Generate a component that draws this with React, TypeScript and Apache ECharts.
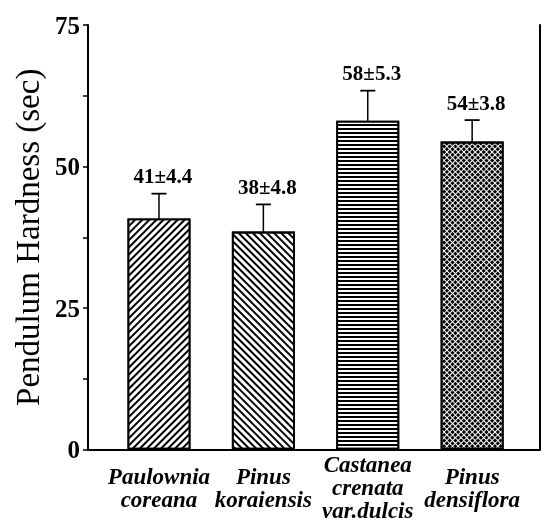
import React, { useEffect, useRef } from "react";
import * as echarts from "echarts";

const categories = [
  "Paulownia\ncoreana",
  "Pinus\nkoraiensis",
  "Castanea\ncrenata\nvar.dulcis",
  "Pinus\ndensiflora",
];
const positions = [1, 2, 3, 4];
const means = [40.8, 38.5, 58.1, 54.4];
const sds = [4.4, 4.8, 5.3, 3.8];
const valueLabels = ["41±4.4", "38±4.8", "58±5.3", "54±3.8"];
const yTicks = [0, 25, 50, 75];

const decals = [
  { symbol: "rect", symbolSize: 1, dashArrayX: [1, 0], dashArrayY: [1.4, 2.4], rotation: -Math.PI / 4, color: "#000" },
  { symbol: "rect", symbolSize: 1, dashArrayX: [1, 0], dashArrayY: [1.4, 2.4], rotation: Math.PI / 4, color: "#000" },
  { symbol: "rect", symbolSize: 1, dashArrayX: [1, 0], dashArrayY: [1.3, 1.7], rotation: 0, color: "#000" },
  { symbol: "rect", symbolSize: 1, dashArrayX: [2.2, 0.9], dashArrayY: [2.2, 0.9], rotation: Math.PI / 4, color: "#000" },
];

export default function App() {
  const ref = useRef<HTMLDivElement>(null);
  useEffect(() => {
    document.body.style.margin = "0";
    document.body.style.overflow = "hidden";
    const chart = echarts.init(ref.current!, null, { renderer: "svg" });
    const serif = "Liberation Serif";
    chart.setOption({
      animation: false,
      aria: { enabled: true, decal: { show: true } },
      grid: { left: 88, right: 7, top: 25, bottom: 72 },
      xAxis: {
        type: "value",
        min: 0.32,
        max: 4.65,
        splitLine: { show: false },
        axisLine: { show: true, onZero: false, lineStyle: { color: "#000", width: 2 } },
        axisTick: { show: false },
        axisLabel: {
          customValues: positions,
          showMinLabel: true,
          showMaxLabel: true,
          hideOverlap: false,
          formatter: (v: number) => categories[Math.round(v) - 1] ?? "",
          fontFamily: serif,
          fontStyle: "italic",
          fontWeight: "bold",
          fontSize: 23,
          lineHeight: 23,
          color: "#000",
          verticalAlign: "middle",
          margin: 38,
        },
      },
      yAxis: [
        {
          type: "value",
          min: 0,
          max: 75,
          interval: 25,
          name: "Pendulum Hardness (sec)",
          nameLocation: "middle",
          nameGap: 38,
          nameTextStyle: { fontFamily: serif, fontSize: 33, color: "#000" },
          splitLine: { show: false },
          axisLine: { show: true, lineStyle: { color: "#000", width: 2 } },
          axisTick: { show: true, length: 5, lineStyle: { color: "#000", width: 1.5 } },
          minorTick: { show: true, splitNumber: 2, length: 5, lineStyle: { color: "#000", width: 1.5 } },
          axisLabel: {
            customValues: yTicks,
            fontFamily: serif,
            fontWeight: "bold",
            fontSize: 25,
            color: "#000",
            margin: 8,
          },
        },
        {
          type: "value",
          min: 0,
          max: 75,
          position: "right",
          splitLine: { show: false },
          axisLine: { show: true, lineStyle: { color: "#000", width: 2 } },
          axisTick: { show: false },
          axisLabel: { show: false },
        },
      ],
      series: [
        {
          type: "bar",
          barWidth: 63,
          data: means.map((m, i) => ({
            value: [positions[i], m],
            itemStyle: { color: "#fff", borderColor: "#000", borderWidth: 1.8, decal: decals[i] },
          })),
        },
        {
          type: "custom",
          data: means.map((m, i) => [positions[i], m, sds[i]]),
          renderItem: (params: any, api: any) => {
            const x = api.value(0);
            const m = api.value(1);
            const s = api.value(2);
            const top = api.coord([x, m + s]);
            const bot = api.coord([x, m - s]);
            const cap = 7.5;
            const idx = params.dataIndex;
            return {
              type: "group",
              children: [
                { type: "line", shape: { x1: top[0], y1: top[1], x2: bot[0], y2: bot[1] }, style: { stroke: "#000", lineWidth: 1.5 } },
                { type: "line", shape: { x1: top[0] - cap, y1: top[1], x2: top[0] + cap, y2: top[1] }, style: { stroke: "#000", lineWidth: 1.8 } },
                { type: "line", shape: { x1: bot[0] - cap, y1: bot[1], x2: bot[0] + cap, y2: bot[1] }, style: { stroke: "#000", lineWidth: 1.8 } },
                {
                  type: "text",
                  x: top[0] + 4,
                  y: top[1] - 7,
                  style: {
                    text: valueLabels[idx],
                    fontFamily: serif,
                    fontWeight: "bold",
                    fontSize: 21,
                    fill: "#000",
                    align: "center",
                    verticalAlign: "bottom",
                  },
                },
              ],
            };
          },
        },
      ],
    });
    return () => chart.dispose();
  }, []);
  return (
    <div
      ref={ref}
      style={{ position: "fixed", left: 0, top: 0, width: 547, height: 522 }}
    />
  );
}
